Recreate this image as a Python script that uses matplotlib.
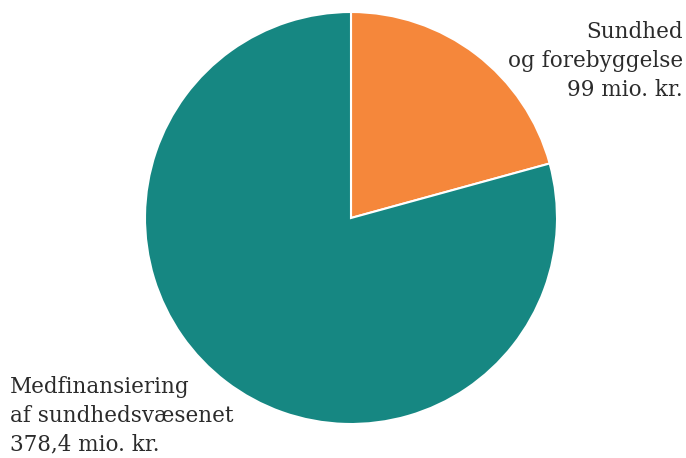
import matplotlib.pyplot as plt

labels = ["Sundhed\nog forebyggelse\n99 mio. kr.",
          "Medfinansiering\naf sundhedsvæsenet\n378,4 mio. kr."]
values = [99.0, 378.4]
colors = ["#F5873B", "#168782"]

W, H = 686, 458
fig = plt.figure(figsize=(W / 100, H / 100), dpi=100)
fig.patch.set_facecolor("white")

# pie centre (351, 218) px, radius 206 px
cx, cy, r = 351, 218, 206
ax = fig.add_axes([(cx - r) / W, (H - cy - r) / H, 2 * r / W, 2 * r / H])
ax.pie(values, colors=colors, startangle=90, counterclock=False, radius=1,
       wedgeprops=dict(edgecolor="white", linewidth=1.5), frame=False)
ax.set_xlim(-1, 1)
ax.set_ylim(-1, 1)
ax.set_aspect("auto")
ax.axis("off")

font = dict(family="DejaVu Serif", fontsize=15.5, color="#2b2b2b", linespacing=1.4)
fig.text(683 / W, 1 - 21 / H, labels[0], ha="right", va="top", multialignment="right", **font)
fig.text(10 / W, 1 - 376 / H, labels[1], ha="left", va="top", multialignment="left", **font)

fig.savefig("out.png", dpi=100, facecolor="white")
